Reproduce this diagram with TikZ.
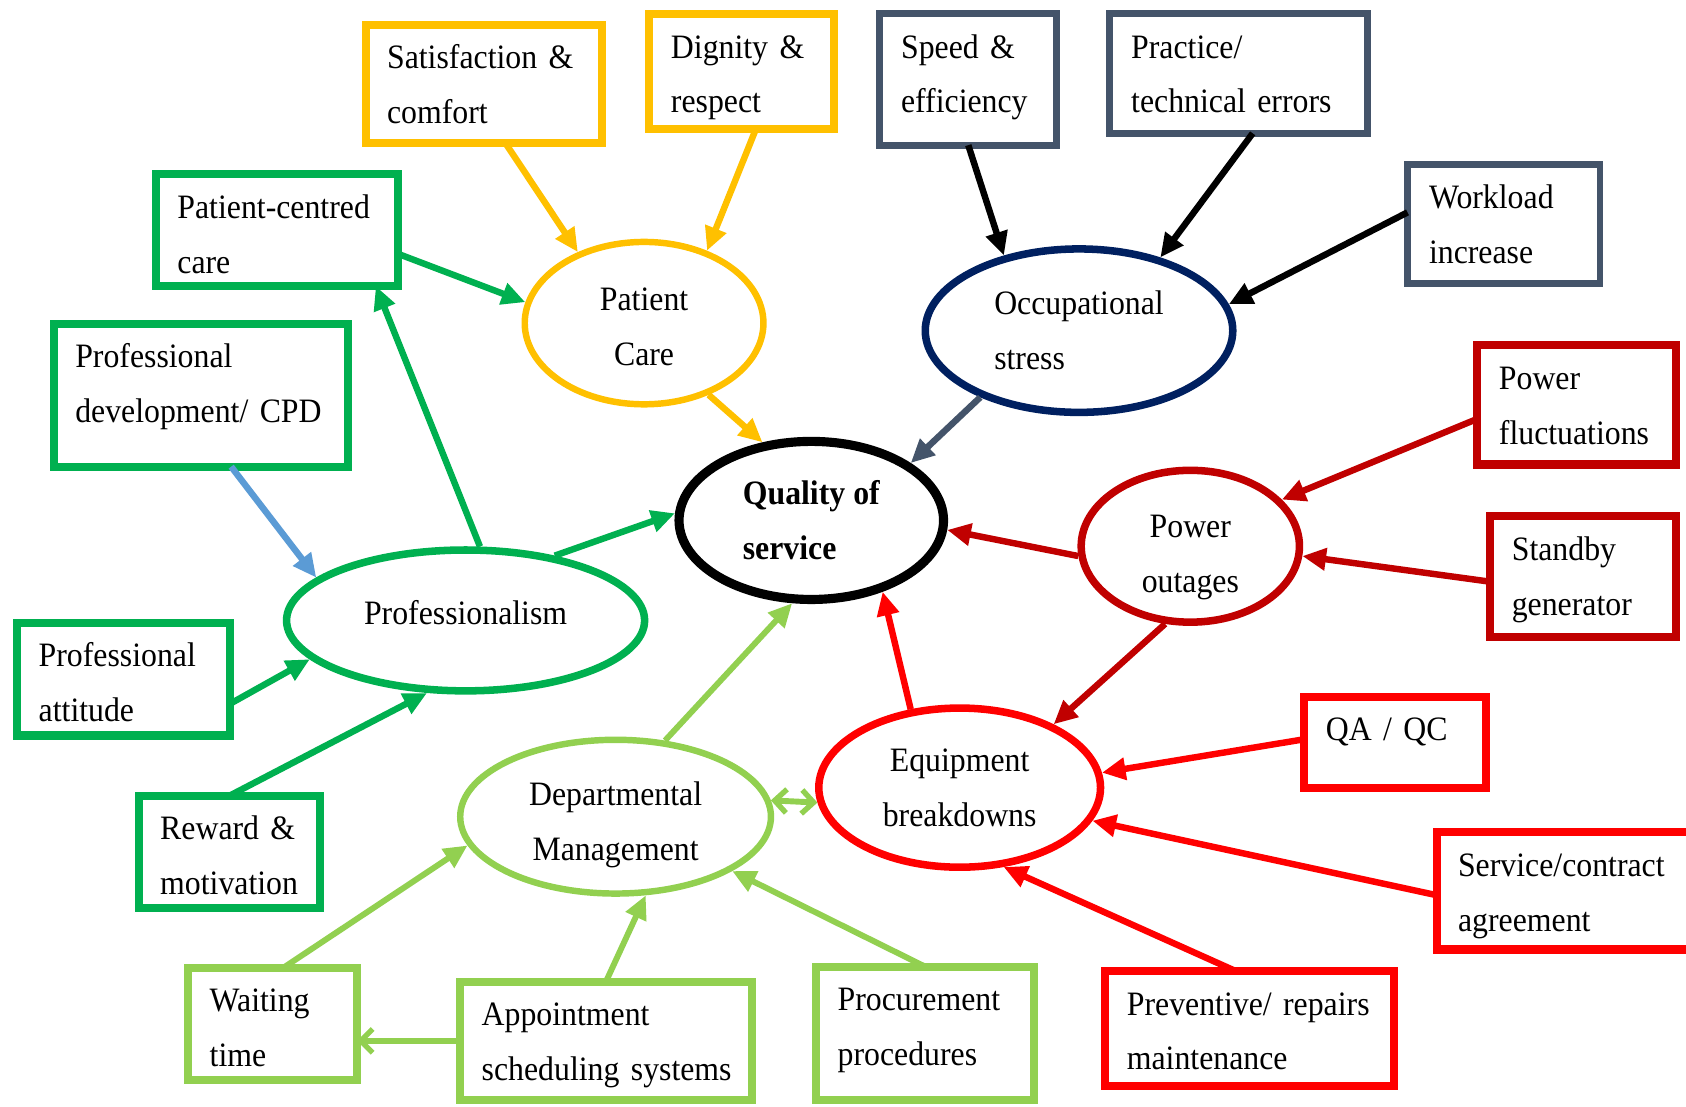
\documentclass[tikz,border=0pt]{standalone}
\usepackage{fontspec}
\setmainfont{Liberation Serif}[FakeStretch=0.93]
\usetikzlibrary{arrows.meta,shapes.geometric}
\hyphenpenalty=10000
\exhyphenpenalty=10000
\definecolor{cyellow}{HTML}{FFC000}
\definecolor{cgreen}{HTML}{00B050}
\definecolor{clgreen}{HTML}{92D050}
\definecolor{cnavy}{HTML}{002060}
\definecolor{cslate}{HTML}{44546A}
\definecolor{cdarkred}{HTML}{C00000}
\definecolor{cred}{HTML}{FF0000}
\definecolor{cblue}{HTML}{5B9BD5}
\newcommand{\mybox}[8][]{%
  \pgfmathsetmacro{\bxtw}{#6-40}%
  \pgfmathsetmacro{\bxtd}{#7-41}%
  \node[bxs, draw=#3, text width=\bxtw pt, text depth=\bxtd pt, #1] (#2) at (#4,#5) {#8};%
}
\begin{document}
\begin{tikzpicture}[x=1pt,y=-1pt,
  txtfont/.style={font=\fontsize{31.8pt}{51pt}\selectfont},
  bxs/.style={txtfont, rectangle, line width=7.5pt, inner xsep=20pt, inner ysep=0pt,
    outer sep=0pt, align=left, anchor=north west, text height=41pt},
  ell/.style={txtfont, draw, ellipse, line width=7pt, inner sep=0pt, align=center},
  arr/.style={line width=6pt, -{Triangle[length=22pt,width=20pt]}},
  barb/.style={line width=5.5pt, -{Straight Barb[length=11pt,width=22pt,line width=5pt]}},
  dbl/.style={line width=5.5pt, {Straight Barb[length=11pt,width=22pt,line width=5pt]}-{Straight Barb[length=11pt,width=22pt,line width=5pt]}},
]
\useasboundingbox (0,0) rectangle (1568,1029);

% ellipses
\node[ell, draw=cyellow, line width=6pt, minimum width=222pt, minimum height=151pt] (pc) at (599,300.5) {\rule{0pt}{28pt}Patient\\Care};
\node[ell, draw=cnavy, minimum width=286pt, minimum height=152pt, align=left] (occ) at (1003.5,307.5) {Occupational\\stress};
\node[ell, draw=black, line width=8.5pt, minimum width=246pt, minimum height=147pt, align=left,
  font=\fontsize{31.8pt}{51pt}\selectfont\bfseries] (q) at (754.5,484) {Quality of\\service};
\node[ell, draw=cgreen, minimum width=333pt, minimum height=131pt] (prof) at (433,577) {Professionalism\rule[-14pt]{0pt}{14pt}};
\node[ell, draw=cdarkred, minimum width=203pt, minimum height=137pt] (po) at (1107,508) {\rule{0pt}{42pt}Power\\outages};
\node[ell, draw=cred, minimum width=262pt, minimum height=148pt] (eq) at (892.5,732.5) {Equipment\\breakdowns};
\node[ell, draw=clgreen, line width=6pt, minimum width=289pt, minimum height=143pt] (dm) at (572.5,759.5) {\rule{0pt}{38pt}Departmental\\Management};

% boxes
\mybox{sat}{cyellow}{340}{23}{220}{110}{Satisfaction~\&\\comfort}
\mybox{dig}{cyellow}{604}{13}{172}{107}{Dignity~\&\\respect}
\mybox{pcc}{cgreen}{145}{162}{225}{104}{Patient-centred\\care}
\mybox{cpd}{cgreen}{50}{301}{274}{133}{Professional\\development/~CPD}
\mybox{att}{cgreen}{16}{579}{198}{105}{Professional\\attitude}
\mybox{rew}{cgreen}{129}{740}{169}{104}{Reward~\&\\motivation}
\mybox{wait}{clgreen}{175}{900}{157}{104}{Waiting\\time}
\mybox{app}{clgreen}{428}{913}{271}{110}{Appointment\\scheduling~systems}
\mybox{proc}{clgreen}{759}{899}{203}{124}{Procurement\\procedures}
\mybox{prev}{cred}{1028}{903}{268}{107}{Preventive/~repairs\\maintenance}
\mybox{serv}{cred}{1336}{774}{270}{109}{Service/contract\\agreement}
\mybox{qa}{cred}{1213}{648}{169}{85}{QA~/~QC}
\mybox{sb}{cdarkred}{1386}{480}{173}{112}{Standby\\generator}
\mybox{pf}{cdarkred}{1374}{321}{185}{111}{Power\\fluctuations}
\mybox[line width=6.5pt]{wl}{cslate}{1309}{153}{179}{111}{Workload\\increase}
\mybox[line width=6.5pt]{pr}{cslate}{1032}{13}{240}{111}{Practice/\\technical~errors}
\mybox[line width=6.5pt]{sp}{cslate}{818}{13}{165}{122}{Speed~\&\\efficiency}

% connectors
\draw[arr, cyellow] ([xshift=20pt]sat.south) -- (pc.133);
\draw[arr, cyellow] ([xshift=13pt]dig.south) -- (pc.49);
\draw[arr, cgreen] ([yshift=-22pt]pcc.east) -- (pc.170);
\draw[arr, cyellow] (pc.-48) -- (q.122);
\draw[arr, cgreen] (prof.79) -- ([xshift=92pt]pcc.south);
\draw[arr, cgreen] (prof.36) -- (q.177);
\draw[arr, cblue] ([xshift=28pt]cpd.south) -- (prof.164);
\draw[arr, cgreen] ([yshift=-23pt]att.east) -- (prof.194);
\draw[arr, cgreen] (rew.north) -- (prof.242);
\draw[arr, black] (sp.south) -- (occ.135);
\draw[arr, black] ([xshift=13pt]pr.south) -- (occ.42);
\draw[arr, black] ([yshift=11pt]wl.west) -- (occ.10);
\draw[arr, cslate] (occ.214) -- (q.30);
\draw[arr, cdarkred] ([yshift=-13pt]pf.west) -- (po.27);
\draw[arr, cdarkred] ([yshift=-5pt]sb.west) -- (po.-5);
\draw[arr, cdarkred] (po.185) -- (q.-4);
\draw[arr, cdarkred] (po.-108) -- (eq.34);
\draw[arr, cred] (eq.122) -- (q.-45);
\draw[arr, cred] ([yshift=3pt]qa.west) -- (eq.6);
\draw[arr, cred] ([yshift=-4pt]serv.west) -- (eq.-14);
\draw[arr, cred] ([xshift=-13pt]prev.north) -- (eq.-61);
\draw[arr, clgreen, line width=5.5pt] (dm.57) -- (q.-103);
\draw[dbl, clgreen] (dm.6) -- (eq.186);
\draw[arr, clgreen, line width=5.5pt] ([xshift=10pt]wait.north) -- (dm.191);
\draw[arr, clgreen, line width=5.5pt] (app.north) -- (dm.-69);
\draw[arr, clgreen, line width=5.5pt] (proc.north) -- (dm.-25);
\draw[barb, clgreen] (app.west) -- ([yshift=-16pt]wait.east);
\end{tikzpicture}
\end{document}
